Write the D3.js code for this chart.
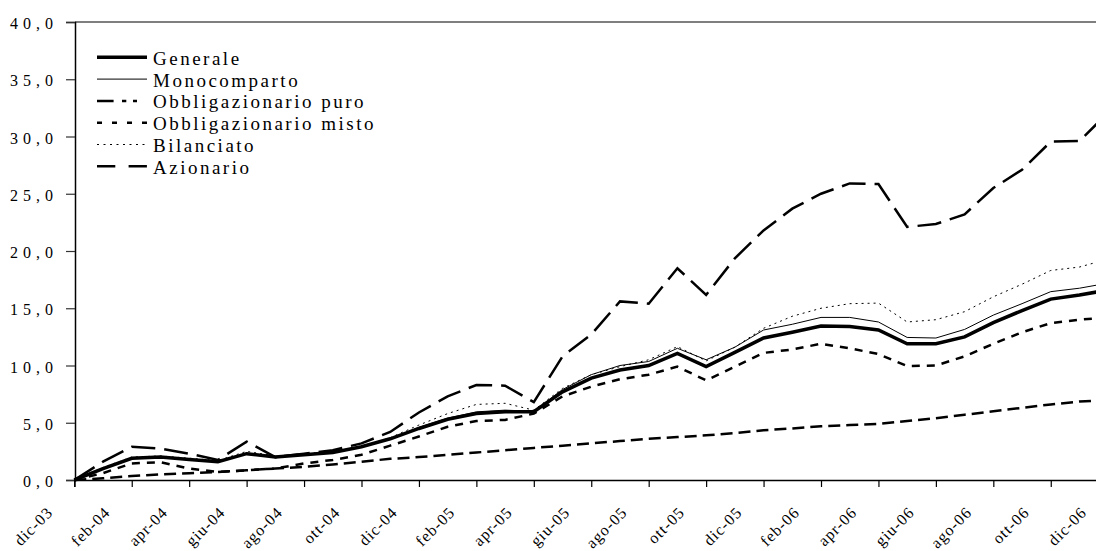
<!DOCTYPE html>
<html><head><meta charset="utf-8">
<script src="https://cdnjs.cloudflare.com/ajax/libs/d3/7.8.5/d3.min.js"></script>
<style>
html,body{margin:0;padding:0;background:#fff;}
svg{display:block;}
text{font-family:"Liberation Serif","Times New Roman",serif;fill:#000;}
</style></head><body>
<svg id="chart" width="1096" height="551"></svg>
<script>
const months = ["dic-03","gen-04","feb-04","mar-04","apr-04","mag-04","giu-04","lug-04","ago-04","set-04","ott-04","nov-04",
"dic-04","gen-05","feb-05","mar-05","apr-05","mag-05","giu-05","lug-05","ago-05","set-05","ott-05","nov-05",
"dic-05","gen-06","feb-06","mar-06","apr-06","mag-06","giu-06","lug-06","ago-06","set-06","ott-06","nov-06","dic-06"];
const tickLabels = ["dic-03","feb-04","apr-04","giu-04","ago-04","ott-04","dic-04","feb-05","apr-05","giu-05","ago-05","ott-05","dic-05","feb-06","apr-06","giu-06","ago-06","ott-06","dic-06"];
const yTicks = [0,5,10,15,20,25,30,35,40];

const seriesNames = ["Generale","Monocomparto","Obbligazionario puro","Obbligazionario misto","Bilanciato","Azionario"];
const generale = [0,1.0,1.9,2.0,1.8,1.6,2.3,2.0,2.2,2.4,2.9,3.6,4.5,5.3,5.8,5.97,5.97,7.7,8.9,9.6,10.0,11.05,9.9,11.15,12.4,12.9,13.45,13.4,13.1,11.9,11.9,12.5,13.75,14.8,15.8,16.15,16.6];
const monocomparto = [0,1.0,1.9,2.0,1.8,1.6,2.35,2.0,2.2,2.4,2.9,3.6,4.6,5.4,5.95,6.1,6.0,7.9,9.2,10.0,10.35,11.5,10.5,11.6,13.1,13.6,14.2,14.2,13.8,12.45,12.4,13.15,14.4,15.4,16.45,16.75,17.2];
const obbPuro = [0,0.15,0.35,0.5,0.6,0.7,0.85,1.0,1.15,1.35,1.6,1.85,2.0,2.2,2.4,2.6,2.8,3.0,3.2,3.4,3.6,3.75,3.9,4.1,4.35,4.5,4.7,4.8,4.9,5.15,5.4,5.7,6.0,6.3,6.6,6.85,7.0];
const obbMisto = [0,0.6,1.45,1.55,1.0,0.7,0.85,1.0,1.45,1.75,2.2,3.0,3.8,4.65,5.15,5.25,5.8,7.3,8.15,8.8,9.2,9.9,8.7,9.9,11.1,11.4,11.9,11.5,11.0,9.95,10.0,10.8,11.9,12.9,13.7,14.0,14.2];
const bilanciato = [0,1.1,2.0,2.1,1.9,1.7,2.5,2.1,2.3,2.5,2.9,3.7,4.8,5.8,6.6,6.7,6.1,8.0,9.2,9.9,10.5,11.65,10.4,11.6,13.25,14.3,15.0,15.4,15.45,13.8,14.0,14.7,16.0,17.1,18.3,18.6,19.3];
const azionario = [0,1.6,2.9,2.75,2.3,1.75,3.35,2.0,2.3,2.6,3.2,4.2,5.9,7.3,8.3,8.24,6.8,10.8,12.7,15.6,15.4,18.49,16.16,19.36,21.8,23.7,25.0,25.9,25.85,22.1,22.36,23.2,25.5,27.1,29.55,29.6,32.1];

const series = [
  {name:seriesNames[0], values:generale, w:3.5, dash:null, legDash:null},
  {name:seriesNames[1], values:monocomparto, w:1, dash:null, legDash:null},
  {name:seriesNames[2], values:obbPuro, w:2.5, dash:"12,6", legDash:"16.6,8.4,4.3,6.7,4,100"},
  {name:seriesNames[3], values:obbMisto, w:2.5, dash:"8,7", legDash:"5,10"},
  {name:seriesNames[4], values:bilanciato, w:1, dash:"2,4", legDash:"2,4.5"},
  {name:seriesNames[5], values:azionario, w:2.5, dash:"24,9", legDash:"18.3,13.3"}
];

const svg = d3.select("#chart");
const x = d3.scalePoint().domain(months).range([74.3, 1108.2]);
const y = d3.scaleLinear().domain([0,40]).range([480,22]);

// top border
svg.append("line").attr("x1",75).attr("x2",1096).attr("y1",22).attr("y2",22)
  .attr("stroke","#555").attr("stroke-width",1.5);

// y axis
const yAxis = d3.axisLeft(y).tickValues(yTicks).tickSize(9).tickPadding(8)
  .tickFormat(d => d3.format(".1f")(d).replace(".",","));
const gy = svg.append("g").attr("transform","translate(75,0)").call(yAxis);
gy.select(".domain").attr("stroke","#000").attr("stroke-width",1.5);
gy.selectAll(".tick line").attr("stroke","#333").attr("stroke-width",1.2);
gy.selectAll(".tick text").attr("dy","0.42em")
  .style("font-size","16px").style("letter-spacing","5px");

// x axis
const xAxis = d3.axisBottom(x).tickValues(tickLabels).tickSize(7).tickFormat(d=>d);
const gx = svg.append("g").attr("transform","translate(0,480)").call(xAxis);
gx.select(".domain").attr("stroke","#000").attr("stroke-width",1.5);
gx.selectAll(".tick line").attr("stroke","#000").attr("stroke-width",1.2);
gx.selectAll(".tick text").attr("text-anchor","end").attr("y",0).attr("dy",0)
  .attr("transform","translate(-21,33.5) rotate(-45)")
  .style("font-size","16px").style("letter-spacing","1px");

// lines
const line = d3.line().x((d,i)=>x(months[i])).y(d=>y(d));
const order = [2,3,5,4,1,0];
order.forEach(k=>{
  const s = series[k];
  svg.append("path").datum(s.values).attr("d",line)
    .attr("fill","none").attr("stroke","#000").attr("stroke-width",s.w)
    .attr("stroke-linejoin","miter")
    .attr("stroke-dasharray",s.dash);
});

// legend
const lg = svg.append("g");
series.forEach((s,i)=>{
  const yy = 57.3 + i*21.8;
  lg.append("line").attr("x1",97).attr("x2",147).attr("y1",yy).attr("y2",yy)
    .attr("stroke","#000").attr("stroke-width",s.w).attr("stroke-dasharray",s.legDash);
  lg.append("text").attr("x",153).attr("y",yy+7.5)
    .style("font-size","19px").style("letter-spacing","2.5px").text(s.name);
});
</script>
</body></html>
